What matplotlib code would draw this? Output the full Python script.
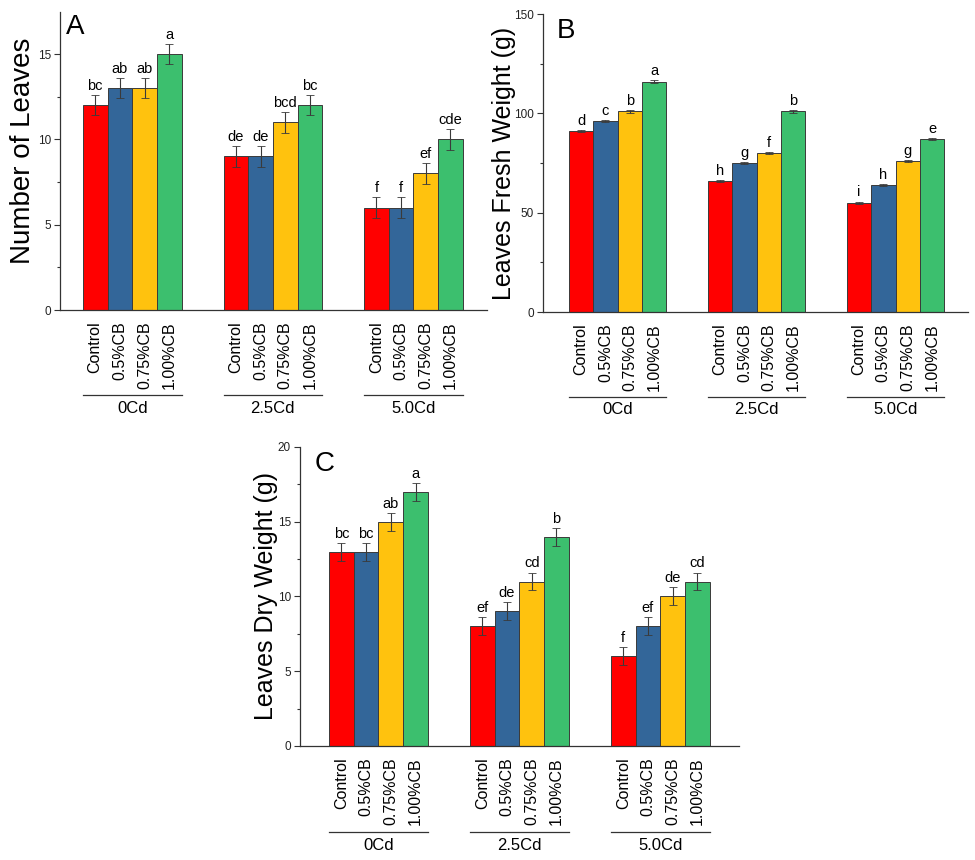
import matplotlib
matplotlib.use("Agg")
import matplotlib.pyplot as plt
import numpy as np

plt.rcParams['font.family'] = ['Liberation Sans', 'DejaVu Sans']

groups = ["0Cd", "2.5Cd", "5.0Cd"]
treatments = ["Control", "0.5%CB", "0.75%CB", "1.00%CB"]
colors = ["#FF0000", "#336699", "#FFC20E", "#3CBF6E"]

leaves_num = [[12, 13, 13, 15], [9, 9, 11, 12], [6, 6, 8, 10]]
leaves_num_err = [[0.6, 0.6, 0.6, 0.6], [0.6, 0.6, 0.6, 0.6], [0.6, 0.6, 0.6, 0.6]]
leaves_num_let = [["bc", "ab", "ab", "a"], ["de", "de", "bcd", "bc"], ["f", "f", "ef", "cde"]]

fresh_w = [[91, 96, 101, 116], [66, 75, 80, 101], [55, 64, 76, 87]]
fresh_w_err = [[0.6, 0.6, 0.6, 0.7], [0.6, 0.6, 0.6, 0.8], [0.6, 0.6, 0.6, 0.6]]
fresh_w_let = [["d", "c", "b", "a"], ["h", "g", "f", "b"], ["i", "h", "g", "e"]]

dry_w = [[13, 13, 15, 17], [8, 9, 11, 14], [6, 8, 10, 11]]
dry_w_err = [[0.6, 0.6, 0.6, 0.6], [0.6, 0.6, 0.6, 0.6], [0.6, 0.6, 0.6, 0.6]]
dry_w_let = [["bc", "bc", "ab", "a"], ["ef", "de", "cd", "b"], ["f", "ef", "de", "cd"]]

SPACING = 5.7

fig = plt.figure(figsize=(9.75, 8.6), dpi=100)


def panel(rect, vals, errs, lets, ylim, yticks, minor, xlim, ylabel, ylab_fs,
          ylab_xy, letter, letter_xy, line_y, glab_y):
    ax = fig.add_axes(rect)
    xs_all, labs_all = [], []
    for g in range(3):
        for i in range(4):
            x = g * SPACING + i
            ax.bar(x, vals[g][i], width=1.0, color=colors[i], edgecolor="#3a3a3a",
                   linewidth=0.7, zorder=2)
            ax.errorbar(x, vals[g][i], yerr=errs[g][i], fmt="none", ecolor="#3a3a3a",
                        elinewidth=0.8, capsize=3, capthick=0.6, zorder=3)
            ax.annotate(lets[g][i], (x, vals[g][i] + errs[g][i]), xytext=(0, 1.5),
                        textcoords="offset points", ha="center", va="bottom",
                        fontsize=10.5)
            xs_all.append(x)
            labs_all.append(treatments[i])
        x0 = g * SPACING - 0.5
        x1 = g * SPACING + 3.5
        ax.plot([x0, x1], [line_y, line_y], transform=ax.get_xaxis_transform(),
                color="#333333", lw=0.9, clip_on=False)
        ax.text((x0 + x1) / 2, glab_y, groups[g], transform=ax.get_xaxis_transform(),
                ha="center", va="center", fontsize=12)
    ax.set_xticks(xs_all)
    ax.set_xticklabels(labs_all, rotation=90, fontsize=11.5)
    ax.tick_params(axis="x", length=0, pad=8)
    ax.set_xlim(*xlim)
    ax.set_ylim(*ylim)
    ax.set_yticks(yticks)
    ax.set_yticks(minor, minor=True)
    ax.tick_params(axis="y", which="major", length=4, width=0.8, labelsize=8.5,
                   color="#333333", labelcolor="#222222", pad=2.5)
    ax.tick_params(axis="y", which="minor", length=2.5, width=0.8, color="#333333")
    for s in ["top", "right"]:
        ax.spines[s].set_visible(False)
    for s in ["left", "bottom"]:
        ax.spines[s].set_color("#333333")
        ax.spines[s].set_linewidth(0.9)
    ax.set_ylabel(ylabel, fontsize=ylab_fs)
    ax.yaxis.set_label_coords(*ylab_xy)
    ax.text(letter_xy[0], letter_xy[1], letter, transform=ax.transAxes, fontsize=20,
            ha="left", va="top")
    return ax


panel([0.0615, 0.6395, 0.438, 0.3465], leaves_num, leaves_num_err, leaves_num_let,
      (0, 17.46), [0, 5, 10, 15], [2.5, 7.5, 12.5], (-1.43, 15.88),
      "Number of Leaves", 20, (-0.055, 0.534), "A", (0.015, 0.995), -0.285, -0.332)

panel([0.557, 0.6372, 0.436, 0.3465], fresh_w, fresh_w_err, fresh_w_let,
      (0, 150), [0, 50, 100, 150], [25, 75, 125], (-1.56, 15.88),
      "Leaves Fresh Weight (g)", 18, (-0.064, 0.5), "B", (0.033, 0.985), -0.285, -0.327)

panel([0.3077, 0.1326, 0.450, 0.3477], dry_w, dry_w_err, dry_w_let,
      (0, 20), [0, 5, 10, 15, 20], [2.5, 7.5, 12.5, 17.5], (-1.67, 16.07),
      "Leaves Dry Weight (g)", 18, (-0.05, 0.5), "C", (0.034, 0.985), -0.288, -0.332)

fig.savefig("out.png", dpi=100)
